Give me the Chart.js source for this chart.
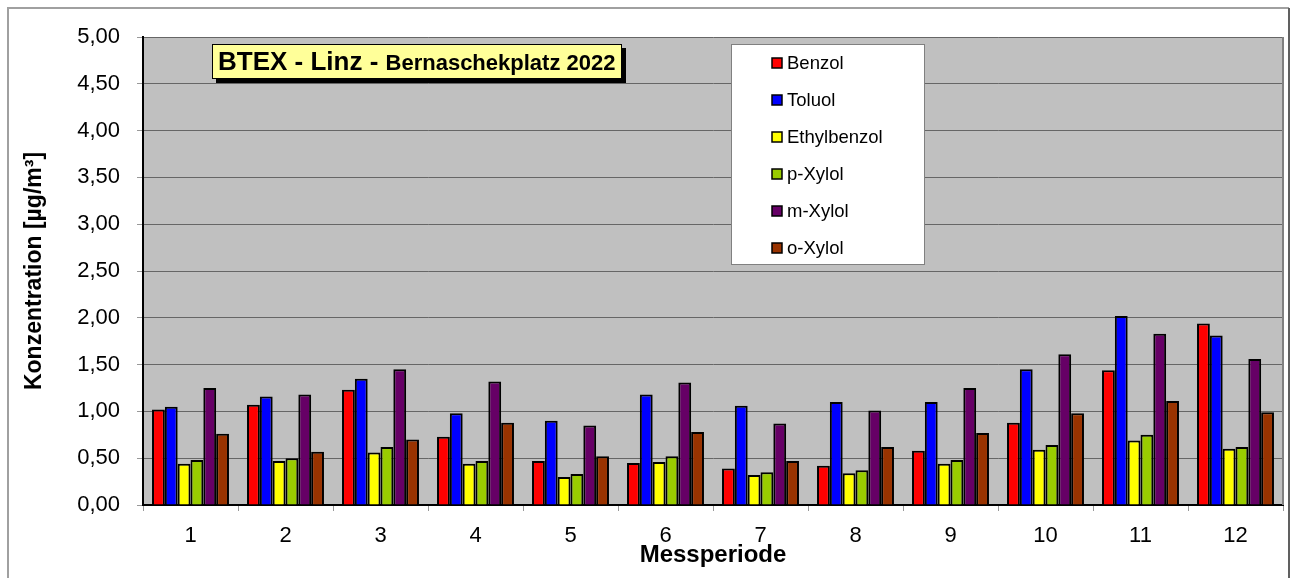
<!DOCTYPE html>
<html>
<head>
<meta charset="utf-8">
<script src="https://cdn.jsdelivr.net/npm/chart.js@4/dist/chart.umd.min.js"></script>
<style>
  html, body { margin: 0; padding: 0; background: #fff; }
  #wrap { width: 1294px; height: 578px; position: relative; }
</style>
</head>
<body>
<div id="wrap"><canvas id="btexChart"></canvas></div>
<script>
const periods = ['1', '2', '3', '4', '5', '6', '7', '8', '9', '10', '11', '12'];
const benzol      = [1.02, 1.07, 1.23, 0.73, 0.47, 0.45, 0.39, 0.42, 0.58, 0.88, 1.44, 1.94];
const toluol      = [1.05, 1.16, 1.35, 0.98, 0.90, 1.18, 1.06, 1.10, 1.10, 1.45, 2.02, 1.81];
const ethylbenzol = [0.44, 0.47, 0.56, 0.44, 0.30, 0.46, 0.32, 0.34, 0.44, 0.59, 0.69, 0.60];
const pXylol      = [0.48, 0.50, 0.62, 0.47, 0.33, 0.52, 0.35, 0.37, 0.48, 0.64, 0.75, 0.62];
const mXylol      = [1.25, 1.18, 1.45, 1.32, 0.85, 1.31, 0.87, 1.01, 1.25, 1.61, 1.83, 1.56];
const oXylol      = [0.76, 0.57, 0.70, 0.88, 0.52, 0.78, 0.47, 0.62, 0.77, 0.98, 1.11, 0.99];

const seriesNames = ['Benzol', 'Toluol', 'Ethylbenzol', 'p-Xylol', 'm-Xylol', 'o-Xylol'];
const yMin = 0, yMax = 5, yStep = 0.5;

const FONT = 'Arial, "Liberation Sans", sans-serif';

// Hintergrund, Rahmen, Titelbox und Legende
const decorations = {
  id: 'decorations',
  beforeDraw(chart) {
    const { ctx, chartArea: a } = chart;
    ctx.save();
    // Rahmen rund um das Diagramm
    ctx.strokeStyle = '#a0a0a0';
    ctx.lineWidth = 2;
    ctx.beginPath();
    ctx.moveTo(8, 590); ctx.lineTo(8, 8); ctx.lineTo(1289, 8);
    ctx.stroke();
    ctx.strokeStyle = '#606060';
    ctx.beginPath();
    ctx.moveTo(1289, 8); ctx.lineTo(1289, 590);
    ctx.stroke();
    // Zeichenfläche grau
    ctx.fillStyle = '#c0c0c0';
    ctx.fillRect(a.left, a.top, a.right - a.left, a.bottom - a.top);
    ctx.restore();
  },
  afterDraw(chart) {
    const { ctx, chartArea: a } = chart;
    ctx.save();
    // rechter Rand der Zeichenfläche
    ctx.strokeStyle = '#808080';
    ctx.lineWidth = 2;
    ctx.beginPath();
    ctx.moveTo(a.right, a.top); ctx.lineTo(a.right, a.bottom);
    ctx.stroke();

    // Titelbox mit Schatten
    ctx.fillStyle = '#000';
    ctx.fillRect(216, 48, 410, 35);
    ctx.fillStyle = '#ffff99';
    ctx.fillRect(212, 44, 410, 35);
    ctx.strokeStyle = '#000';
    ctx.lineWidth = 1;
    ctx.strokeRect(212.5, 44.5, 409, 34);
    ctx.fillStyle = '#000';
    ctx.textBaseline = 'alphabetic';
    ctx.font = 'bold 26px ' + FONT;
    const part1 = 'BTEX - Linz - ';
    ctx.fillText(part1, 218, 70);
    const w1 = ctx.measureText(part1).width;
    ctx.font = 'bold 22px ' + FONT;
    ctx.fillText('Bernaschekplatz 2022', 218 + w1, 70);

    // Legende
    ctx.fillStyle = '#fff';
    ctx.fillRect(731, 44, 194, 221);
    ctx.strokeStyle = '#808080';
    ctx.lineWidth = 1;
    ctx.strokeRect(731.5, 44.5, 193, 220);
    ctx.font = '18.5px ' + FONT;
    ctx.textBaseline = 'middle';
    chart.data.datasets.forEach((ds, i) => {
      const y = 63 + i * 37;
      ctx.fillStyle = ds.backgroundColor;
      ctx.fillRect(772, y - 5, 10, 10);
      ctx.strokeStyle = '#000';
      ctx.lineWidth = 1.5;
      ctx.strokeRect(772, y - 5, 10, 10);
      ctx.fillStyle = '#000';
      ctx.fillText(ds.label, 787, y + 1);
    });
    ctx.restore();
  }
};

const colors = ['#ff0000', '#0000ff', '#ffff00', '#99cc00', '#660066', '#993300'];
const values = [benzol, toluol, ethylbenzol, pXylol, mXylol, oXylol];

new Chart(document.getElementById('btexChart'), {
  type: 'bar',
  data: {
    labels: periods,
    datasets: seriesNames.map((name, i) => ({
      label: name,
      data: values[i],
      backgroundColor: colors[i],
      borderColor: '#000',
      borderWidth: 2,
      categoryPercentage: 0.81,
      barPercentage: 1.0
    }))
  },
  options: {
    responsive: true,
    maintainAspectRatio: false,
    animation: false,
    layout: { padding: { left: 0, right: 11, top: 37, bottom: 0 } },
    plugins: {
      legend: { display: false },
      tooltip: { enabled: false }
    },
    scales: {
      x: {
        afterFit(scale) { scale.height = 73; },
        grid: {
          display: true,
          drawOnChartArea: false,
          offset: true,
          tickLength: 6,
          tickColor: '#999'
        },
        border: { color: '#000', width: 2 },
        ticks: {
          color: '#000',
          padding: 12,
          font: { family: FONT, size: 22 }
        },
        title: {
          display: true,
          text: 'Messperiode',
          color: '#000',
          padding: { top: 0, bottom: 8 },
          font: { family: FONT, size: 24, weight: 'bold' }
        }
      },
      y: {
        min: yMin,
        max: yMax,
        afterFit(scale) { scale.width = 143; },
        grid: {
          color: '#666',
          lineWidth: 1,
          tickLength: 6,
          tickColor: '#999'
        },
        border: { color: '#000', width: 2 },
        ticks: {
          stepSize: yStep,
          color: '#000',
          padding: 17,
          font: { family: FONT, size: 22 },
          callback: v => v.toFixed(2).replace('.', ',')
        },
        title: {
          display: true,
          text: 'Konzentration [µg/m³]',
          color: '#000',
          padding: { top: 21, bottom: 0 },
          font: { family: FONT, size: 23, weight: 'bold' }
        }
      }
    }
  },
  plugins: [decorations]
});
</script>
</body>
</html>
